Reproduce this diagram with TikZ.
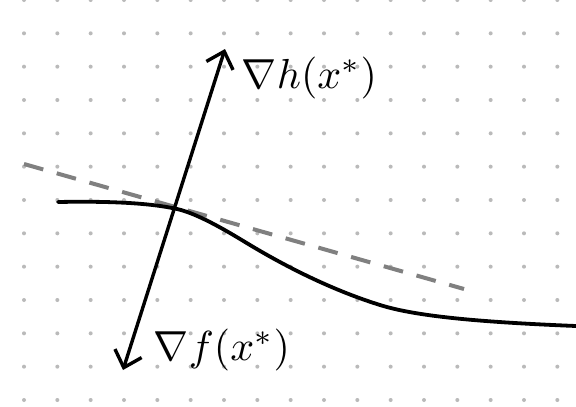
\documentclass[tikz,border=0pt]{standalone}
\usetikzlibrary{arrows.meta}
\begin{document}
\begin{tikzpicture}[x=1pt,y=-1pt,
  griddot/.style={fill=black!27},
  tangentline/.style={draw=black!50,line width=4pt,dash pattern=on 20pt off 14pt},
  curveline/.style={draw=black,line width=3.8pt,line cap=round},
  gradline/.style={draw=black,line width=3.4pt,line cap=round,
    {Straight Barb[length=15pt,width=28pt,line width=3.4pt]}-{Straight Barb[length=15pt,width=28pt,line width=3.4pt]}},
  lab/.style={inner sep=0pt,scale=4.2}]
\useasboundingbox (0,0) rectangle (576,407);
\fill[white] (0,0) rectangle (576,407);
% dotted grid
\foreach \i in {0,...,16}{
  \foreach \j in {0,...,12}{
    \fill[griddot] ({24+33.333*\i},{33.333*\j}) circle (2pt);
  }
}
% tangent line (dashed)
\coordinate (t1) at (24,164);
\coordinate (t2) at (464,289);
\draw[tangentline] (t1) -- (t2);
% constraint curve
\coordinate (c0) at (58,202);
\coordinate (c1) at (177,209);
\coordinate (c2) at (250,245);
\coordinate (c3) at (380,305);
\coordinate (c4) at (576,326);
\draw[curveline] (c0) .. controls (110,201) and (150,203) .. (c1)
  .. controls (200,214) and (235,236) .. (c2)
  .. controls (290,269) and (335,291) .. (c3)
  .. controls (415,316) and (476,322) .. (c4);
% gradient arrow
\coordinate (tipB) at (123,370);
\coordinate (tipT) at (225,49);
\draw[gradline] (tipB) -- (tipT);
% labels
\node[lab,anchor=west] (gh) at (241,78) {$\nabla h(x^{*})$};
\node[lab,anchor=west] (gf) at (153,350) {$\nabla f(x^{*})$};
\end{tikzpicture}
\end{document}
